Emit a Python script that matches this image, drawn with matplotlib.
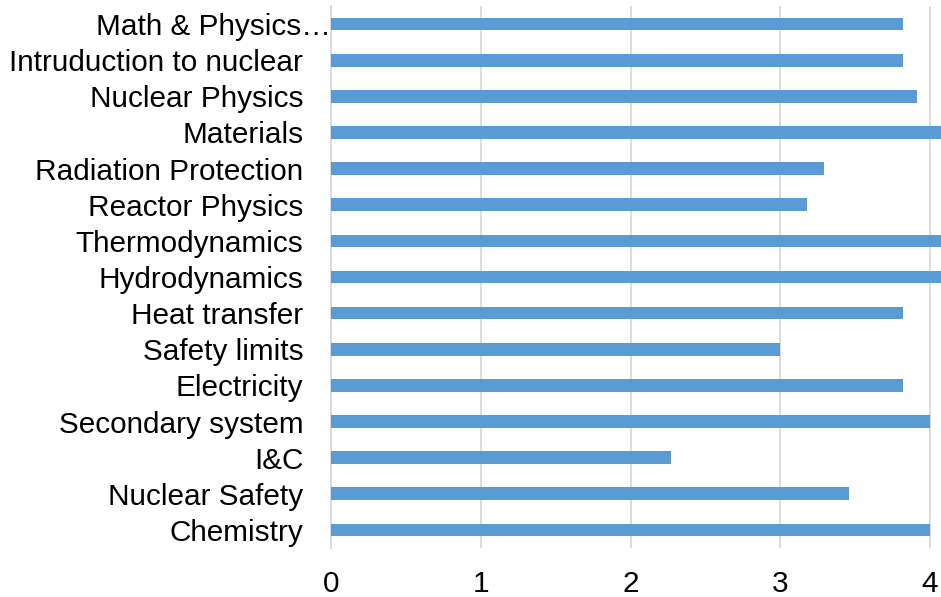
import matplotlib
matplotlib.use('Agg')
import matplotlib.pyplot as plt
from matplotlib.transforms import ScaledTranslation

plt.rcParams['font.family'] = ['Liberation Sans', 'DejaVu Sans']

# survey averages per course topic (top to bottom as shown)
topics = ['Math & Physics\u2026', 'Intruduction to nuclear', 'Nuclear Physics',
          'Materials', 'Radiation Protection', 'Reactor Physics',
          'Thermodynamics', 'Hydrodynamics', 'Heat transfer', 'Safety limits',
          'Electricity', 'Secondary system', 'I&C', 'Nuclear Safety',
          'Chemistry']
scores = [3.82, 3.82, 3.91, 4.18, 3.29, 3.18, 4.18, 4.18, 3.82, 3.0,
          3.82, 4.0, 2.27, 3.46, 4.0]
xticks = [0, 1, 2, 3, 4]

fig = plt.figure(figsize=(9.41, 5.97), dpi=100)
# plot area runs off the right edge of the image, as in the source
ax = fig.add_axes([331 / 941, 49 / 597, 610 / 941, 542 / 597])

y = list(range(len(topics)))
ax.barh(y, scores, height=0.35, color='#5B9BD5', zorder=3)
ax.set_xlim(0, 610 / 149.75)
ax.set_ylim(len(topics) - 0.5, -0.5)

ax.set_yticks(y)
ax.set_yticklabels(topics, fontsize=21.4)
ax.set_xticks(xticks)
ax.set_xticklabels([str(t) for t in xticks], fontsize=21.4)
ax.tick_params(axis='both', length=0)
ax.tick_params(axis='y', pad=20)
ax.tick_params(axis='x', pad=16)

ax.grid(axis='x', color='#D9D9D9', linewidth=1.3, zorder=0)
for side in ('top', 'right', 'bottom'):
    ax.spines[side].set_visible(False)
ax.spines['left'].set_color('#D9D9D9')
ax.spines['left'].set_linewidth(1.3)

# truncated first label reaches right up to the axis line
lab = ax.get_yticklabels()[0]
lab.set_transform(lab.get_transform() + ScaledTranslation(20 / 72, 0, fig.dpi_scale_trans))

fig.savefig('out.png', dpi=100)
plt.close(fig)
